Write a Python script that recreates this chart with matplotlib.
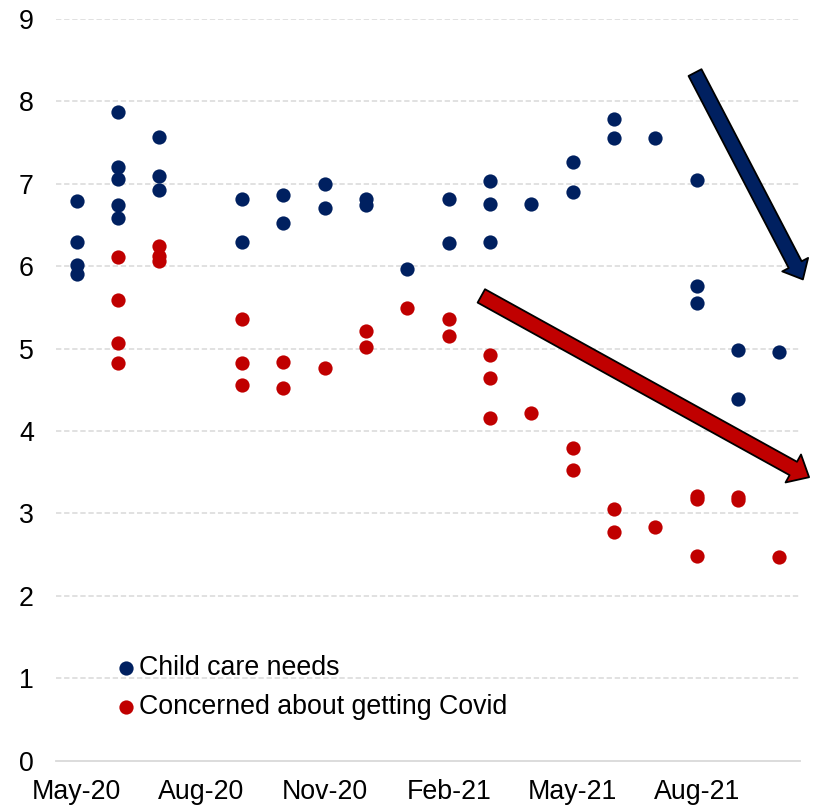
import matplotlib
matplotlib.use("Agg")
import matplotlib.pyplot as plt
from matplotlib.patches import FancyArrowPatch, ArrowStyle

plt.rcParams['font.family'] = ['Liberation Sans', 'DejaVu Sans']

NAVY = '#002060'
RED = '#C00000'
GRID = '#D9D9D9'

# months on the category axis, May-20 .. Oct-21
months = ['May-20', 'Jun-20', 'Jul-20', 'Aug-20', 'Sep-20', 'Oct-20',
          'Nov-20', 'Dec-20', 'Jan-21', 'Feb-21', 'Mar-21', 'Apr-21',
          'May-21', 'Jun-21', 'Jul-21', 'Aug-21', 'Sep-21', 'Oct-21']
tick_labels = ['May-20', 'Aug-20', 'Nov-20', 'Feb-21', 'May-21', 'Aug-21']

# Child care needs (month index, value)
child_month = [0, 0, 0, 0,
               1, 1, 1, 1, 1,
               2, 2, 2,
               4, 4, 5, 5, 6, 6, 7, 7, 8, 9, 9,
               10, 10, 10, 11, 12, 12, 13, 13, 14,
               15, 15, 15, 16, 16, 17]
child_val = [6.79, 6.29, 6.01, 5.91,
             7.87, 7.20, 7.06, 6.74, 6.58,
             7.57, 7.10, 6.93,
             6.81, 6.30, 6.87, 6.53, 7.00, 6.71, 6.82, 6.74, 5.97, 6.81, 6.28,
             7.03, 6.76, 6.30, 6.76, 7.27, 6.90, 7.79, 7.56, 7.56,
             7.05, 5.76, 5.56, 4.98, 4.39, 4.96]

# Concerned about getting Covid (month index, value)
covid_month = [1, 1, 1, 1,
               2, 2, 2,
               4, 4, 4, 5, 5, 6, 7, 7, 8, 9, 9,
               10, 10, 10, 11, 12, 12, 13, 13, 14,
               15, 15, 15, 16, 16, 17]
covid_val = [6.11, 5.59, 5.07, 4.82,
             6.25, 6.12, 6.06,
             5.36, 4.83, 4.56, 4.84, 4.52, 4.77, 5.22, 5.02, 5.49, 5.36, 5.15,
             4.92, 4.65, 4.16, 4.22, 3.80, 3.53, 3.06, 2.77, 2.83,
             3.21, 3.18, 2.48, 3.20, 3.16, 2.47]

fig = plt.figure(figsize=(8.14, 8.06), dpi=100)
ax = fig.add_axes([0.0688, 0.0562, 0.914, 0.9202])

ax.scatter(child_month, child_val, s=105, color=NAVY, linewidths=0,
           label='Child care needs', zorder=3)
ax.scatter(covid_month, covid_val, s=105, color=RED, linewidths=0,
           label='Concerned about getting Covid', zorder=3)

ax.set_xlim(-0.5, len(months) - 0.5)
ax.set_ylim(0, 9)
ax.set_yticks(range(0, 10))
ax.set_xticks([months.index(m) for m in tick_labels])
ax.set_xticklabels(tick_labels)

for y in range(1, 10):
    ax.axhline(y, color=GRID, lw=1.1, ls=(0, (3.5, 1.8)), zorder=1)

for s in ['top', 'right', 'left']:
    ax.spines[s].set_visible(False)
ax.spines['bottom'].set_color(GRID)
ax.spines['bottom'].set_linewidth(1.3)
ax.tick_params(axis='both', length=0, labelsize=19.3, colors='black')
ax.tick_params(axis='y', pad=16)
ax.tick_params(axis='x', pad=13)

# trend arrows
blue_arrow = FancyArrowPatch((14.96, 8.35), (17.57, 5.84),
                             arrowstyle=ArrowStyle.Simple(head_length=12, head_width=21, tail_width=10.5),
                             mutation_scale=1, facecolor=NAVY, edgecolor='black',
                             lw=1.3, shrinkA=0, shrinkB=0, clip_on=False, zorder=5)
red_arrow = FancyArrowPatch((9.79, 5.64), (17.72, 3.44),
                            arrowstyle=ArrowStyle.Simple(head_length=13, head_width=23, tail_width=11),
                            mutation_scale=1, facecolor=RED, edgecolor='black',
                            lw=1.3, shrinkA=0, shrinkB=0, clip_on=False, zorder=5)
ax.add_patch(blue_arrow)
ax.add_patch(red_arrow)

ax.legend(loc='center left', bbox_to_anchor=(0.0845, 0.0985), frameon=False,
          fontsize=19.3, handlelength=0.5, handletextpad=0.24, borderpad=0,
          borderaxespad=0, labelspacing=0.5, markerscale=1.0, scatterpoints=1)

fig.savefig('out.png', dpi=100)
